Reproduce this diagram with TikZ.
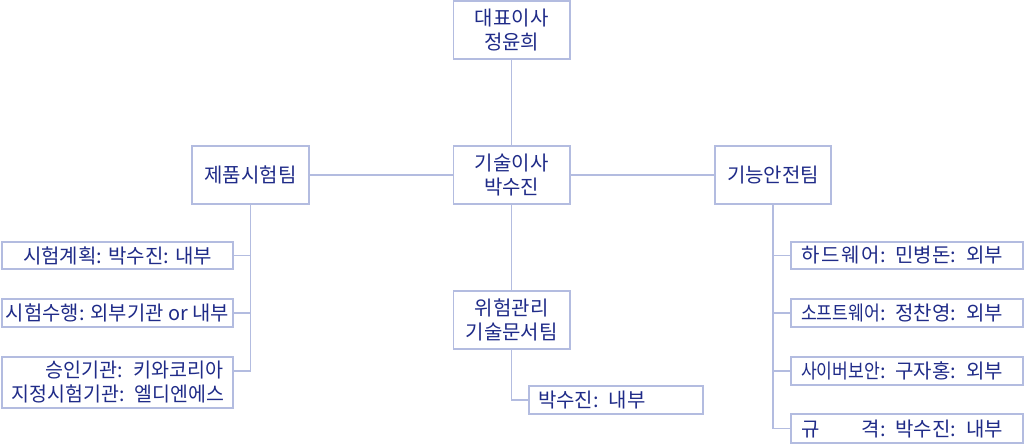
\documentclass[tikz,border=0pt]{standalone}
\usepackage{fontspec}
\usepackage{graphicx}
\setmainfont{Noto Sans CJK KR}
\definecolor{boxline}{HTML}{B3BCE0}
\definecolor{txt}{HTML}{1F2B88}
\newcommand{\fitw}[2]{\resizebox{#1}{\height}{#2}}
\newcommand{\lbl}[1]{\makebox[79pt][s]{#1}}
\begin{document}
\begin{tikzpicture}[x=1pt,y=-1pt,
  box/.style={draw=boxline,line width=1.3pt,fill=white,text=txt,inner sep=0pt,
     font=\fontsize{20}{24}\selectfont,align=center},
  wire/.style={draw=boxline,line width=1.3pt}]
\useasboundingbox[fill=white] (0,0) rectangle (1024,445);
\node[box,minimum width=116.5pt,minimum height=58pt] (ceo) at (511.75,30) {대표이사\\정윤희};
\node[box,minimum width=116.5pt,minimum height=58pt] (cto) at (511.75,175) {기술이사\\박수진};
\node[box,minimum width=116.5pt,minimum height=58pt] (risk) at (511.75,320) {위험관리\\기술문서팀};
\node[box,minimum width=174pt,minimum height=28pt,text width=156pt,align=left] (riskp) at (616,400) {박수진: 내부};
\node[box,minimum width=117pt,minimum height=58pt] (prod) at (250.5,175) {제품시험팀};
\node[box,minimum width=116pt,minimum height=58pt] (func) at (773,175) {기능안전팀};
\node[box,minimum width=231pt,minimum height=27pt] (p1) at (117.5,255.5) {시험계획: 박수진: 내부};
\node[box,minimum width=231pt,minimum height=28pt] (p2) at (117.5,313) {\fitw{223pt}{시험수행: 외부기관 or 내부}};
\node[box,minimum width=231pt,minimum height=51pt,text width=211pt,align=right] (p3) at (117.5,382.5) {\fitw{177pt}{승인기관: 키와코리아}\\\fitw{212pt}{지정시험기관: 엘디엔에스}};
\node[box,minimum width=232pt,minimum height=27pt,text width=212pt,align=left] (f1) at (907,255.5) {\lbl{하\hfill 드\hfill 웨\hfill 어}: 민병돈: 외부};
\node[box,minimum width=232pt,minimum height=28pt,text width=212pt,align=left] (f2) at (907,313) {\lbl{\fitw{79pt}{소프트웨어}}: 정찬영: 외부};
\node[box,minimum width=232pt,minimum height=28pt,text width=212pt,align=left] (f3) at (907,371) {\lbl{\fitw{79pt}{사이버보안}}: 구자홍: 외부};
\node[box,minimum width=232pt,minimum height=29pt,text width=212pt,align=left] (f4) at (907,428.5) {\lbl{규\hfill 격}: 박수진: 내부};
\draw[wire] (ceo) -- (cto);
\draw[wire] (cto) -- (risk);
\draw[wire] (risk.south) |- (riskp.west);
\draw[wire] (prod) -- (cto);
\draw[wire] (cto) -- (func);
\draw[wire] (prod.south) |- (p1.east);
\draw[wire] (prod.south) |- (p2.east);
\draw[wire] (prod.south) |- ([yshift=11.5pt]p3.east);
\draw[wire] (func.south) |- (f1.west);
\draw[wire] (func.south) |- (f2.west);
\draw[wire] (func.south) |- (f3.west);
\draw[wire] (func.south) |- (f4.west);
\end{tikzpicture}
\end{document}
